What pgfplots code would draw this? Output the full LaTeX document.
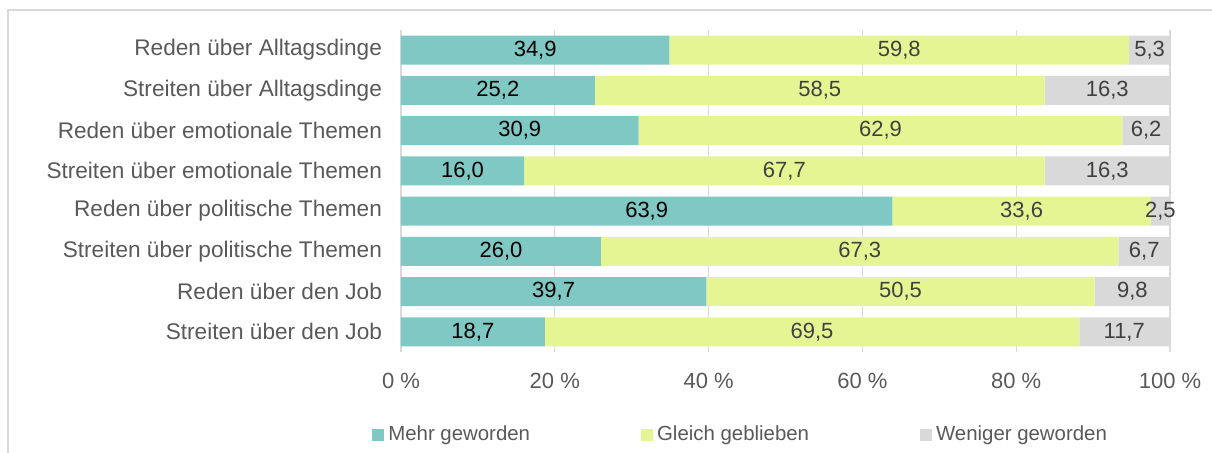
\documentclass[border=0pt]{standalone}
\usepackage{fontspec}
\setmainfont{Liberation Sans}
\usepackage{pgfplots}
\usepackage{pgfplotstable}
\pgfplotsset{compat=1.18}
\definecolor{mehr}{HTML}{80C8C4}
\definecolor{gleich}{HTML}{E6F594}
\definecolor{weniger}{HTML}{D9D9D9}
\definecolor{txt}{HTML}{595959}
\definecolor{txtdark}{HTML}{404040}
\definecolor{framec}{HTML}{D9D9D9}

\pgfplotstableread{
y v lab
0 34.9 34,9
1 25.2 25,2
2 30.9 30,9
3 16.0 16,0
4 63.9 63,9
5 26.0 26,0
6 39.7 39,7
7 18.7 18,7
}\mehrtab
\pgfplotstableread{
y v lab
0 59.8 59,8
1 58.5 58,5
2 62.9 62,9
3 67.7 67,7
4 33.6 33,6
5 67.3 67,3
6 50.5 50,5
7 69.5 69,5
}\gleichtab
\pgfplotstableread{
y v lab
0 5.3 5,3
1 16.3 16,3
2 6.2 6,2
3 16.3 16,3
4 2.5 2,5
5 6.7 6,7
6 9.8 9,8
7 11.7 11,7
}\wenigertab

\begin{document}
\begin{tikzpicture}[font=\fontsize{11}{13}\selectfont]
\useasboundingbox (0,0) rectangle (606pt,226.5pt);
\draw[framec, line width=0.8pt] (606pt,221.5pt) -- (4pt,221.5pt) -- (4pt,0pt);
\begin{axis}[
  at={(200.5pt,50.5pt)}, anchor=south west,
  scale only axis, width=384.5pt, height=161pt,
  xbar stacked, bar width=14.5pt,
  xmin=0, xmax=100, ymin=-0.5, ymax=7.5, y dir=reverse,
  ytick={0,...,7},
  yticklabels={Reden über Alltagsdinge, Streiten über Alltagsdinge,
    Reden über emotionale Themen, Streiten über emotionale Themen,
    Reden über politische Themen, Streiten über politische Themen,
    Reden über den Job, Streiten über den Job},
  xtick={0,20,40,60,80,100},
  xticklabels={0 \%, 20 \%, 40 \%, 60 \%, 80 \%, 100 \%},
  axis line style={draw=none},
  major tick length=0pt,
  xmajorgrids, grid style={framec, line width=0.7pt},
  tick label style={text=txt, font=\fontsize{11}{13}\selectfont},
  yticklabel style={xshift=-6pt, font=\fontsize{11.3}{13}\selectfont},
  xticklabel style={yshift=-7pt},
  nodes near coords, point meta=explicit symbolic,
  every node near coord/.append style={anchor=center,
    text=txtdark, font=\fontsize{11}{13}\selectfont},
  legend columns=3,
  legend style={at={(0.443,-0.257)}, anchor=center, draw=none, fill=none,
    text=txt, font=\fontsize{10.2}{12}\selectfont,
    nodes={inner xsep=2pt},
    /tikz/every even column/.append style={column sep=53.5pt}},
  legend image code/.code={\path[#1, draw=none] (0pt,-3pt) rectangle (6pt,3pt);},
]
\addplot[fill=mehr, draw=none, every node near coord/.append style={text=black}]
  table[x=v, y=y, meta=lab] {\mehrtab};
\addplot[fill=gleich, draw=none] table[x=v, y=y, meta=lab] {\gleichtab};
\addplot[fill=weniger, draw=none] table[x=v, y=y, meta=lab] {\wenigertab};
\legend{Mehr geworden, Gleich geblieben, Weniger geworden}
\end{axis}
\end{tikzpicture}
\end{document}
